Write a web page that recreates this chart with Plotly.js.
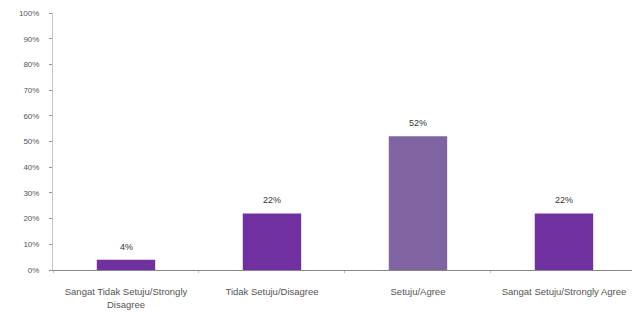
<!DOCTYPE html>
<html>
<head>
<meta charset="utf-8">
<script src="https://cdn.plot.ly/plotly-3.0.1.min.js"></script>
<style>html,body{margin:0;padding:0;background:#fff;}#chart{width:632px;height:318px;}</style>
</head>
<body>
<div id="chart"></div>
<script>
const categories = ["Sangat Tidak Setuju/Strongly<br>Disagree", "Tidak Setuju/Disagree", "Setuju/Agree", "Sangat Setuju/Strongly Agree"];
const values = [4, 22, 52, 22];
const barColors = ["#7030A0", "#7030A0", "#8064A2", "#7030A0"];
const yTickVals = [0, 10, 20, 30, 40, 50, 60, 70, 80, 90, 100];
const yTickText = ["0%", "10%", "20%", "30%", "40%", "50%", "60%", "70%", "80%", "90%", "100%"];

const trace = {
  type: "bar",
  x: categories,
  y: values,
  marker: {color: barColors, line: {width: 0}},
  width: 0.4,
  hoverinfo: "none"
};

const annotations = categories.map((c, i) => ({
  x: c, y: values[i], xref: "x", yref: "y",
  text: values[i] + "%", showarrow: false,
  yanchor: "bottom", yshift: 6,
  font: {family: "Liberation Sans, Arial, sans-serif", size: 9, color: "#333"}
}));

const layout = {
  width: 632, height: 318,
  margin: {l: 53, r: 0, t: 13, b: 48},
  paper_bgcolor: "#fff", plot_bgcolor: "#fff",
  showlegend: false,
  font: {family: "Liberation Sans, Arial, sans-serif", size: 9, color: "#555"},
  annotations: annotations,
  xaxis: {
    range: [-0.5, 3.466],
    showline: true, linecolor: "#888", linewidth: 1,
    ticks: "outside", tickson: "boundaries", ticklen: 2, tickcolor: "#bbb",
    ticklabelstandoff: 13,
    tickfont: {size: 9.5, color: "#555"},
    showgrid: false, zeroline: false, tickangle: 0, automargin: false
  },
  yaxis: {
    range: [0, 100],
    tickvals: yTickVals, ticktext: yTickText,
    showline: true, linecolor: "#c8c8c8", linewidth: 1,
    ticks: "outside", ticklen: 3, tickcolor: "#999",
    ticklabelstandoff: 8,
    tickfont: {size: 8, color: "#555"},
    showgrid: false, zeroline: false, automargin: false
  },
  bargap: 0.6
};

Plotly.newPlot("chart", [trace], layout, {staticPlot: true, displayModeBar: false});
</script>
</body>
</html>
